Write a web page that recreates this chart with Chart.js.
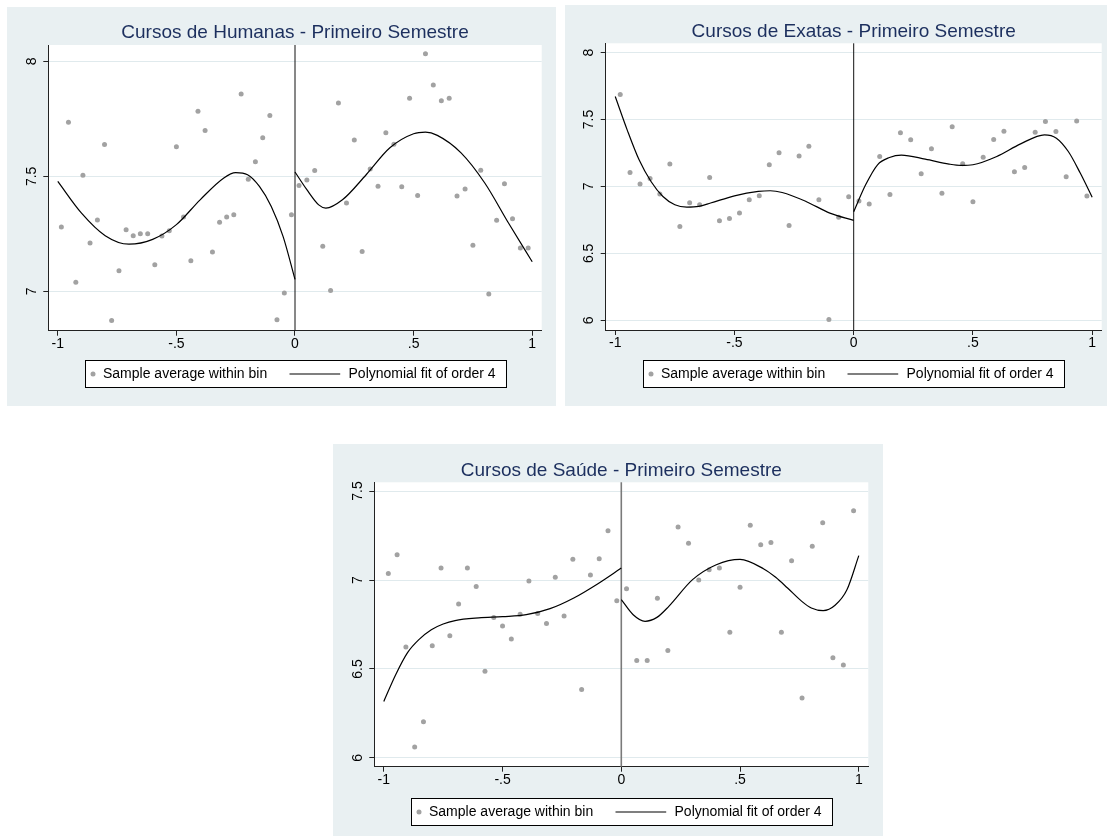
<!DOCTYPE html>
<html>
<head>
<meta charset="utf-8">
<script src="https://cdn.jsdelivr.net/npm/chart.js@4.4.1/dist/chart.umd.min.js"></script>
<style>
  html, body { margin: 0; padding: 0; background: #ffffff; }
  body { width: 1109px; height: 836px; position: relative; overflow: hidden; }
  .panel { position: absolute; background: #e9f0f2; }
  .panel canvas { display: block; }
</style>
</head>
<body>
<div class="panel" style="left:7px;top:7px;width:549px;height:399px"><canvas id="humanas"></canvas></div>
<div class="panel" style="left:565px;top:5px;width:542px;height:401px"><canvas id="exatas"></canvas></div>
<div class="panel" style="left:333px;top:444px;width:550px;height:392px"><canvas id="saude"></canvas></div>
<script>
// ---- shared axis ticks ----
const xTickValues = [-1, -0.5, 0, 0.5, 1];
const xTickLabels = ['-1', '-.5', '0', '.5', '1'];
const cutoff = 0;
const pointsLabel = 'Sample average within bin';
const fitLabel = 'Polynomial fit of order 4';

// ---- Cursos de Humanas ----
const humanasTitle = 'Cursos de Humanas - Primeiro Semestre';
const humanasYTicks = [7, 7.5, 8];
const humanasYTickLabels = ['7', '7.5', '8'];
const humanasBinX = [
  -0.985, -0.955, -0.924, -0.894, -0.864, -0.833, -0.803, -0.773, -0.742, -0.712, -0.682,
  -0.652, -0.621, -0.591, -0.561, -0.530, -0.500, -0.470, -0.439, -0.409, -0.379, -0.348,
  -0.318, -0.288, -0.258, -0.227, -0.197, -0.167, -0.136, -0.106, -0.076, -0.045, -0.015,
  0.017, 0.050, 0.083, 0.117, 0.150, 0.183, 0.217, 0.250, 0.283, 0.317,
  0.350, 0.383, 0.417, 0.450, 0.483, 0.517, 0.550, 0.583, 0.617, 0.650,
  0.683, 0.717, 0.750, 0.783, 0.817, 0.850, 0.883, 0.917, 0.950, 0.983
];
const humanasBinY = [
  7.280, 7.735, 7.040, 7.505, 7.210, 7.310, 7.638, 6.873, 7.090, 7.268, 7.242,
  7.251, 7.251, 7.116, 7.241, 7.264, 7.629, 7.323, 7.133, 7.783, 7.699, 7.171,
  7.300, 7.323, 7.333, 7.858, 7.487, 7.564, 7.668, 7.765, 6.877, 6.993, 7.333,
  7.460, 7.484, 7.525, 7.196, 7.004, 7.819, 7.384, 7.658, 7.173, 7.532,
  7.457, 7.689, 7.639, 7.455, 7.839, 7.417, 8.033, 7.897, 7.829, 7.839,
  7.415, 7.445, 7.200, 7.526, 6.989, 7.309, 7.468, 7.316, 7.189, 7.189
];
const humanasFitLeftX = [-1, -0.9, -0.8, -0.7, -0.6, -0.5, -0.4, -0.3, -0.25, -0.2, -0.15, -0.1, -0.05, 0];
const humanasFitLeftY = [7.478, 7.340, 7.242, 7.205, 7.226, 7.290, 7.398, 7.493, 7.516, 7.507, 7.456, 7.369, 7.238, 7.052];
const humanasFitRightX = [0, 0.05, 0.1, 0.13, 0.2, 0.3, 0.4, 0.5, 0.55, 0.6, 0.7, 0.8, 0.9, 1];
const humanasFitRightY = [7.519, 7.442, 7.376, 7.362, 7.398, 7.507, 7.624, 7.685, 7.692, 7.678, 7.602, 7.471, 7.297, 7.129];

// ---- Cursos de Exatas ----
const exatasTitle = 'Cursos de Exatas - Primeiro Semestre';
const exatasYTicks = [6, 6.5, 7, 7.5, 8];
const exatasYTickLabels = ['6', '6.5', '7', '7.5', '8'];
const exatasBinX = [
  -0.979, -0.938, -0.896, -0.854, -0.813, -0.771, -0.729, -0.688, -0.646, -0.604, -0.563, -0.521,
  -0.479, -0.438, -0.396, -0.354, -0.313, -0.271, -0.229, -0.188, -0.146, -0.104, -0.063, -0.021,
  0.022, 0.065, 0.109, 0.152, 0.196, 0.239, 0.283, 0.326, 0.370, 0.413, 0.457, 0.500,
  0.543, 0.587, 0.630, 0.674, 0.717, 0.761, 0.804, 0.848, 0.891, 0.935, 0.978
];
const exatasBinY = [
  7.687, 7.104, 7.018, 7.060, 6.943, 7.167, 6.701, 6.878, 6.863, 7.067, 6.744, 6.761,
  6.801, 6.901, 6.931, 7.162, 7.251, 6.709, 7.227, 7.301, 6.901, 6.005, 6.769, 6.923,
  6.891, 6.869, 7.224, 6.940, 7.401, 7.349, 7.095, 7.281, 6.950, 7.446, 7.169, 6.886,
  7.219, 7.351, 7.413, 7.110, 7.142, 7.406, 7.485, 7.410, 7.072, 7.490, 6.928
];
const exatasFitLeftX = [-1, -0.95, -0.9, -0.85, -0.8, -0.75, -0.7, -0.65, -0.6, -0.5, -0.4, -0.35, -0.3, -0.2, -0.1, 0];
const exatasFitLeftY = [7.672, 7.423, 7.199, 7.037, 6.925, 6.863, 6.846, 6.851, 6.876, 6.930, 6.963, 6.968, 6.955, 6.888, 6.801, 6.746];
const exatasFitRightX = [0, 0.05, 0.1, 0.15, 0.2, 0.3, 0.4, 0.45, 0.5, 0.6, 0.7, 0.8, 0.85, 0.9, 0.95, 1];
const exatasFitRightY = [6.811, 7.012, 7.162, 7.216, 7.234, 7.204, 7.167, 7.157, 7.162, 7.224, 7.318, 7.386, 7.361, 7.261, 7.100, 6.920];

// ---- Cursos de Saúde ----
const saudeTitle = 'Cursos de Saúde - Primeiro Semestre';
const saudeYTicks = [6, 6.5, 7, 7.5];
const saudeYTickLabels = ['6', '6.5', '7', '7.5'];
const saudeBinX = [
  -0.981, -0.944, -0.907, -0.870, -0.833, -0.796, -0.759, -0.722, -0.685, -0.648, -0.611, -0.574, -0.537, -0.500,
  -0.463, -0.426, -0.389, -0.352, -0.315, -0.278, -0.241, -0.204, -0.167, -0.130, -0.093, -0.056, -0.019,
  0.022, 0.065, 0.109, 0.152, 0.196, 0.239, 0.283, 0.326, 0.370, 0.413, 0.457, 0.500,
  0.543, 0.587, 0.630, 0.674, 0.717, 0.761, 0.804, 0.848, 0.891, 0.935, 0.978
];
const saudeBinY = [
  7.037, 7.142, 6.624, 6.062, 6.204, 6.631, 7.067, 6.687, 6.865, 7.067, 6.964, 6.487, 6.790, 6.742,
  6.669, 6.807, 6.994, 6.812, 6.756, 7.015, 6.798, 7.116, 6.385, 7.028, 7.120, 7.277, 6.884,
  6.951, 6.548, 6.548, 6.897, 6.604, 7.298, 7.206, 7.000, 7.058, 7.067, 6.706, 6.959,
  7.307, 7.198, 7.211, 6.706, 7.108, 6.337, 7.189, 7.322, 6.563, 6.522, 7.389
];
const saudeFitLeftX = [-1, -0.95, -0.9, -0.85, -0.8, -0.75, -0.7, -0.6, -0.5, -0.4, -0.3, -0.2, -0.1, 0];
const saudeFitLeftY = [6.318, 6.468, 6.592, 6.668, 6.721, 6.753, 6.772, 6.787, 6.794, 6.805, 6.839, 6.899, 6.978, 7.067];
const saudeFitRightX = [0, 0.05, 0.1, 0.15, 0.2, 0.3, 0.4, 0.5, 0.6, 0.65, 0.7, 0.76, 0.8, 0.85, 0.9, 0.95, 1];
const saudeFitRightY = [6.890, 6.805, 6.768, 6.790, 6.852, 7.002, 7.086, 7.116, 7.062, 7.015, 6.955, 6.880, 6.843, 6.828, 6.858, 6.945, 7.137];

// ---- drawing ----
const FONT = '"Liberation Sans", Arial, Helvetica, sans-serif';
Chart.defaults.font.family = FONT;
Chart.defaults.color = '#000000';

const zip = (xs, ys) => xs.map((x, i) => ({ x: x, y: ys[i] }));

// white plot region behind grid and marks
const plotBackground = {
  id: 'plotBackground',
  beforeDraw(chart) {
    const { ctx, chartArea: a } = chart;
    ctx.save();
    ctx.fillStyle = '#ffffff';
    ctx.fillRect(a.left, a.top, a.right - a.left, a.bottom - a.top);
    ctx.restore();
  }
};

// vertical line at the cutoff
const cutoffLine = {
  id: 'cutoffLine',
  beforeDatasetsDraw(chart, args, opts) {
    const { ctx, chartArea: a, scales } = chart;
    const x = scales.x.getPixelForValue(opts.value);
    ctx.save();
    ctx.strokeStyle = opts.color;
    ctx.lineWidth = opts.width;
    ctx.beginPath();
    ctx.moveTo(x, a.top);
    ctx.lineTo(x, a.bottom);
    ctx.stroke();
    ctx.restore();
  }
};

// framed legend row under the x axis
const boxLegend = {
  id: 'boxLegend',
  afterDraw(chart, args, opts) {
    const { ctx, chartArea: a } = chart;
    const pts = chart.data.datasets[0];
    const fit = chart.data.datasets[1];
    ctx.save();
    ctx.font = '14px ' + FONT;
    const w1 = ctx.measureText(pts.label).width;
    const w2 = ctx.measureText(fit.label).width;
    const lineLen = 50.7;
    const total = 18 + w1 + 22.3 + lineLen + 8.3 + w2 + 10.3;
    const left = Math.round((a.left + a.right) / 2 - total / 2);
    const top = Math.round(a.bottom + opts.offset);
    const h = 27;
    ctx.fillStyle = '#ffffff';
    ctx.fillRect(left, top, total, h);
    ctx.strokeStyle = '#000000';
    ctx.lineWidth = 1;
    ctx.strokeRect(left + 0.5, top + 0.5, Math.round(total), h);
    const cy = top + h / 2 + 0.5;
    ctx.fillStyle = pts.backgroundColor;
    ctx.beginPath();
    ctx.arc(left + 8, cy, pts.pointRadius, 0, Math.PI * 2);
    ctx.fill();
    ctx.fillStyle = '#000000';
    ctx.textAlign = 'left';
    ctx.textBaseline = 'middle';
    ctx.fillText(pts.label, left + 18, cy + 0.6);
    const lx = left + 18 + w1 + 22.3;
    ctx.strokeStyle = fit.borderColor;
    ctx.lineWidth = fit.borderWidth;
    ctx.beginPath();
    ctx.moveTo(lx, cy);
    ctx.lineTo(lx + lineLen, cy);
    ctx.stroke();
    ctx.fillText(fit.label, lx + lineLen + 8.3, cy + 0.6);
    ctx.restore();
  }
};

function makePanel(id, p) {
  const fitStyle = {
    label: fitLabel,
    showLine: true,
    pointRadius: 0,
    borderColor: '#000000',
    borderWidth: 1.2,
    cubicInterpolationMode: 'monotone',
    fill: false,
    order: 0
  };
  return new Chart(document.getElementById(id), {
    type: 'scatter',
    data: {
      datasets: [
        {
          label: pointsLabel,
          data: zip(p.binX, p.binY),
          pointRadius: 2.5,
          pointHoverRadius: 2.5,
          backgroundColor: '#a2a2a2',
          borderWidth: 0,
          order: 1
        },
        Object.assign({ data: zip(p.leftX, p.leftY) }, fitStyle),
        Object.assign({ data: zip(p.rightX, p.rightY) }, fitStyle)
      ]
    },
    options: {
      responsive: true,
      maintainAspectRatio: false,
      animation: false,
      events: [],
      layout: { padding: { left: 0, top: 0, right: p.padRight, bottom: p.padBottom } },
      plugins: {
        legend: { display: false },
        tooltip: { enabled: false },
        title: {
          display: true,
          text: p.title,
          color: '#1c2f5e',
          fullSize: false,
          font: { size: 19, weight: 'normal' },
          padding: { top: p.titleTop + 1.6, bottom: 0.4 }
        },
        cutoffLine: { value: cutoff, color: p.cutColor, width: p.cutWidth },
        boxLegend: { offset: p.legendOffset }
      },
      scales: {
        x: {
          type: 'linear',
          min: -1.04,
          max: 1.04,
          afterBuildTicks: (s) => { s.ticks = xTickValues.map((v) => ({ value: v })); },
          afterFit: (s) => { s.height = 30; },
          ticks: {
            autoSkip: false,
            minRotation: 0,
            maxRotation: 0,
            padding: 0,
            color: '#000000',
            font: { size: 14 },
            callback: (v, i) => xTickLabels[i]
          },
          grid: { drawOnChartArea: false, drawTicks: true, tickLength: 5, tickColor: '#222222', tickWidth: 1 },
          border: { display: true, color: '#222222', width: 1 }
        },
        y: {
          type: 'linear',
          min: p.yMin,
          max: p.yMax,
          afterBuildTicks: (s) => { s.ticks = p.yTicks.map((v) => ({ value: v })); },
          afterFit: (s) => { s.width = p.yAxisWidth; },
          ticks: {
            autoSkip: false,
            minRotation: 90,
            maxRotation: 90,
            crossAlign: 'center',
            padding: 1.6,
            color: '#000000',
            font: { size: 14 },
            callback: (v, i) => p.yTickLabels[i]
          },
          grid: { color: '#e0eaed', lineWidth: 1, drawTicks: true, tickLength: 5, tickColor: '#222222', tickWidth: 1 },
          border: { display: true, color: '#222222', width: 1 }
        }
      }
    },
    plugins: [plotBackground, cutoffLine, boxLegend]
  });
}

makePanel('humanas', {
  title: humanasTitle, binX: humanasBinX, binY: humanasBinY,
  leftX: humanasFitLeftX, leftY: humanasFitLeftY, rightX: humanasFitRightX, rightY: humanasFitRightY,
  yTicks: humanasYTicks, yTickLabels: humanasYTickLabels, yMin: 6.829, yMax: 8.071,
  yAxisWidth: 41.3, padRight: 14.3, padBottom: 45.3, titleTop: 13.2, legendOffset: 29.6,
  cutColor: '#111111', cutWidth: 1
});

makePanel('exatas', {
  title: exatasTitle, binX: exatasBinX, binY: exatasBinY,
  leftX: exatasFitLeftX, leftY: exatasFitLeftY, rightX: exatasFitRightX, rightY: exatasFitRightY,
  yTicks: exatasYTicks, yTickLabels: exatasYTickLabels, yMin: 5.927, yMax: 8.07,
  yAxisWidth: 40.7, padRight: 5.3, padBottom: 46, titleTop: 13.5, legendOffset: 30,
  cutColor: '#111111', cutWidth: 1
});

makePanel('saude', {
  title: saudeTitle, binX: saudeBinX, binY: saudeBinY,
  leftX: saudeFitLeftX, leftY: saudeFitLeftY, rightX: saudeFitRightX, rightY: saudeFitRightY,
  yTicks: saudeYTicks, yTickLabels: saudeYTickLabels, yMin: 5.951, yMax: 7.549,
  yAxisWidth: 41.3, padRight: 14.7, padBottom: 39.3, titleTop: 13.5, legendOffset: 31.6,
  cutColor: '#7a7a7a', cutWidth: 1.6
});
</script>
</body>
</html>
